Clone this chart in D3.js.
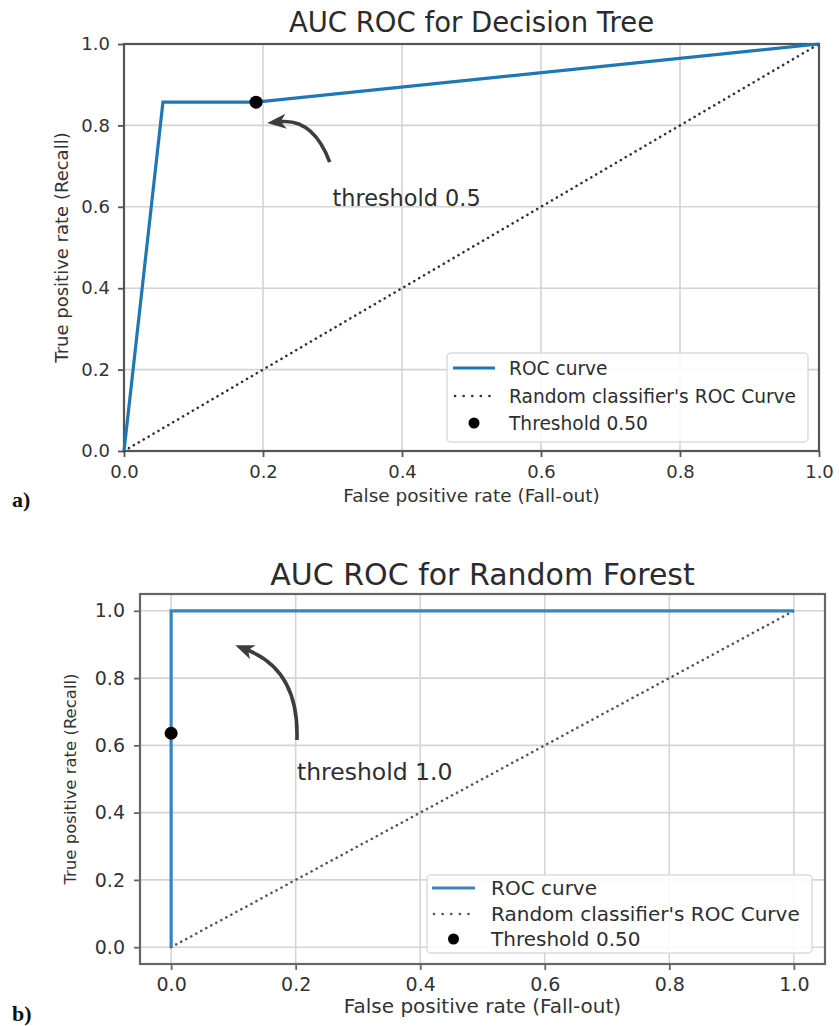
<!DOCTYPE html>
<html>
<head>
<meta charset="utf-8">
<script src="https://cdn.jsdelivr.net/npm/d3@7"></script>
<style>
  body { margin: 0; background: #fff; }
</style>
</head>
<body>
<svg id="fig" width="839" height="1026" font-family="DejaVu Sans, sans-serif"></svg>
<script>
// values
const tickValues = [0, 0.2, 0.4, 0.6, 0.8, 1.0];
const diagonal = [[0, 0], [1, 1]];
const treeRoc = [[0, 0], [0.056, 0.857], [0.19, 0.857], [1, 1]];
const treeThreshold = [0.19, 0.857];
const forestRoc = [[0, 0], [0, 1], [1, 1]];
const forestThreshold = [0, 0.636];
const legendLabels = ["ROC curve", "Random classifier's ROC Curve", "Threshold 0.50"];
const titles = ["AUC ROC for Decision Tree", "AUC ROC for Random Forest"];
const xTitle = "False positive rate (Fall-out)";
const yTitle = "True positive rate (Recall)";
// annotation: arrow tip, arrow tail and text start, in data units
const treeNote = { text: "threshold 0.5", tip: [0.206, 0.806], tail: [0.296, 0.71], at: [0.30, 0.602] };
const forestNote = { text: "threshold 1.0", tip: [0.103, 0.898], tail: [0.202, 0.616], at: [0.202, 0.497] };

const svg = d3.select("#fig");
const fmt = d3.format(".1f");

// layout of the two panels
const panels = [
  {
    roc: treeRoc, point: treeThreshold, note: treeNote, title: titles[0], tag: "a)",
    domain: [0, 1], left: 124, right: 819, top: 44, bottom: 451,
    rocColor: "#1f77b4", diagColor: "#333", frame: "#555",
    titleY: 32, titleSize: 27.5, tickSize: 18, xPad: 8, yPad: 8,
    xLabelY: 502, xLabelSize: 18.5, yLabelX: 68, yLabelSize: 18,
    noteSize: 22.4, rad: 0.38,
    legend: { x0: 447, x1: 808, y0: 353, y1: 442, rows: [368, 396, 423], s0: 453, s1: 495, tx: 509, size: 18.6 },
    tagY: 507
  },
  {
    roc: forestRoc, point: forestThreshold, note: forestNote, title: titles[1], tag: "b)",
    domain: [-0.05, 1.05], left: 140, right: 825, top: 594, bottom: 964,
    rocColor: "#3a84bd", diagColor: "#555", frame: "#666",
    titleY: 585, titleSize: 30, tickSize: 19, xPad: 7.5, yPad: 9,
    xLabelY: 1013, xLabelSize: 20, yLabelX: 76, yLabelSize: 16.5,
    noteSize: 23.5, rad: 0.35,
    legend: { x0: 427, x1: 812, y0: 875, y1: 953, rows: [888, 914, 939], s0: 432, s1: 475, tx: 491, size: 20 },
    tagY: 1021
  }
];

panels.forEach(drawPanel);

function drawPanel(p) {
  const g = svg.append("g");
  const x = d3.scaleLinear().domain(p.domain).range([p.left, p.right]);
  const y = d3.scaleLinear().domain(p.domain).range([p.bottom, p.top]);

  // grid
  g.append("g").selectAll("line").data(tickValues).join("line")
    .attr("x1", d => x(d)).attr("x2", d => x(d))
    .attr("y1", p.top).attr("y2", p.bottom)
    .attr("stroke", "#d4d4d4").attr("stroke-width", 1.6);
  g.append("g").selectAll("line").data(tickValues).join("line")
    .attr("y1", d => y(d)).attr("y2", d => y(d))
    .attr("x1", p.left).attr("x2", p.right)
    .attr("stroke", "#d4d4d4").attr("stroke-width", 1.6);

  // axes
  const xa = g.append("g").attr("transform", `translate(0,${p.bottom})`)
    .call(d3.axisBottom(x).tickValues(tickValues).tickFormat(fmt).tickSize(6).tickPadding(p.xPad));
  const ya = g.append("g").attr("transform", `translate(${p.left},0)`)
    .call(d3.axisLeft(y).tickValues(tickValues).tickFormat(fmt).tickSize(6).tickPadding(p.yPad));
  [xa, ya].forEach(a => {
    a.select(".domain").remove();
    a.selectAll("line").attr("stroke", p.frame).attr("stroke-width", 1.8);
    a.selectAll("text").attr("font-family", "DejaVu Sans").attr("font-size", p.tickSize).attr("fill", "#333");
  });

  // frame
  g.append("rect")
    .attr("x", p.left).attr("y", p.top)
    .attr("width", p.right - p.left).attr("height", p.bottom - p.top)
    .attr("fill", "none").attr("stroke", p.frame).attr("stroke-width", 2.2);

  const line = d3.line().x(d => x(d[0])).y(d => y(d[1]));

  // random classifier diagonal
  g.append("path").attr("d", line(diagonal))
    .attr("fill", "none").attr("stroke", p.diagColor).attr("stroke-width", 2.6)
    .attr("stroke-linecap", "round").attr("stroke-dasharray", "0.1 5.6");

  // roc curve
  g.append("path").attr("d", line(p.roc))
    .attr("fill", "none").attr("stroke", p.rocColor).attr("stroke-width", 3.2)
    .attr("stroke-linejoin", "miter");

  // threshold point
  g.append("circle").attr("cx", x(p.point[0])).attr("cy", y(p.point[1]))
    .attr("r", 6.5).attr("fill", "#000");

  // annotation arrow
  const n = p.note;
  const P0 = [x(n.tail[0]), y(n.tail[1])];
  const P2 = [x(n.tip[0]), y(n.tip[1])];
  const dx = P2[0] - P0[0], dy = P2[1] - P0[1];
  const C = [(P0[0] + P2[0]) / 2 - p.rad * dy, (P0[1] + P2[1]) / 2 + p.rad * dx];
  const ux = P2[0] - C[0], uy = P2[1] - C[1];
  const ul = Math.hypot(ux, uy);
  const u = [ux / ul, uy / ul], nv = [-u[1], u[0]];
  const L = 19, W = 7.5;
  const base = [P2[0] - u[0] * L, P2[1] - u[1] * L];
  const notch = [P2[0] - u[0] * L * 0.72, P2[1] - u[1] * L * 0.72];
  g.append("path")
    .attr("d", `M${P0}Q${C} ${notch}`)
    .attr("fill", "none").attr("stroke", "#3d3d3d").attr("stroke-width", 3.6);
  g.append("path")
    .attr("d", `M${P2}L${base[0] + nv[0] * W},${base[1] + nv[1] * W}L${notch}L${base[0] - nv[0] * W},${base[1] - nv[1] * W}Z`)
    .attr("fill", "#3d3d3d");
  g.append("text").attr("x", x(n.at[0])).attr("y", y(n.at[1]))
    .attr("font-size", p.noteSize).attr("fill", "#2e2e2e").text(n.text);

  // titles and labels
  g.append("text").attr("x", (p.left + p.right) / 2).attr("y", p.titleY)
    .attr("text-anchor", "middle").attr("font-size", p.titleSize).attr("fill", "#2b2b2b").text(p.title);
  g.append("text").attr("x", (p.left + p.right) / 2).attr("y", p.xLabelY)
    .attr("text-anchor", "middle").attr("font-size", p.xLabelSize).attr("fill", "#333").text(xTitle);
  g.append("text")
    .attr("transform", `translate(${p.yLabelX},${(p.top + p.bottom) / 2}) rotate(-90)`)
    .attr("text-anchor", "middle").attr("font-size", p.yLabelSize).attr("fill", "#333").text(yTitle);

  // legend
  const lg = p.legend;
  g.append("rect").attr("x", lg.x0).attr("y", lg.y0)
    .attr("width", lg.x1 - lg.x0).attr("height", lg.y1 - lg.y0).attr("rx", 4)
    .attr("fill", "#fff").attr("fill-opacity", 0.85).attr("stroke", "#dcdcdc").attr("stroke-width", 1.5);
  g.append("line").attr("x1", lg.s0).attr("x2", lg.s1).attr("y1", lg.rows[0]).attr("y2", lg.rows[0])
    .attr("stroke", p.rocColor).attr("stroke-width", 3.2);
  g.append("line").attr("x1", lg.s0 + 2).attr("x2", lg.s1).attr("y1", lg.rows[1]).attr("y2", lg.rows[1])
    .attr("stroke", p.diagColor).attr("stroke-width", 2.6)
    .attr("stroke-linecap", "round").attr("stroke-dasharray", "0.1 8.5");
  g.append("circle").attr("cx", (lg.s0 + lg.s1) / 2).attr("cy", lg.rows[2]).attr("r", 5.5).attr("fill", "#000");
  g.append("g").selectAll("text").data(legendLabels).join("text")
    .attr("x", lg.tx).attr("y", (d, i) => lg.rows[i] + lg.size * 0.36)
    .attr("font-size", lg.size).attr("fill", "#2e2e2e").text(d => d);

  // panel tag
  svg.append("text").attr("x", 12).attr("y", p.tagY)
    .attr("font-family", "Liberation Serif").attr("font-weight", "bold")
    .attr("font-size", 22).attr("fill", "#111").text(p.tag);
}
</script>
</body>
</html>
